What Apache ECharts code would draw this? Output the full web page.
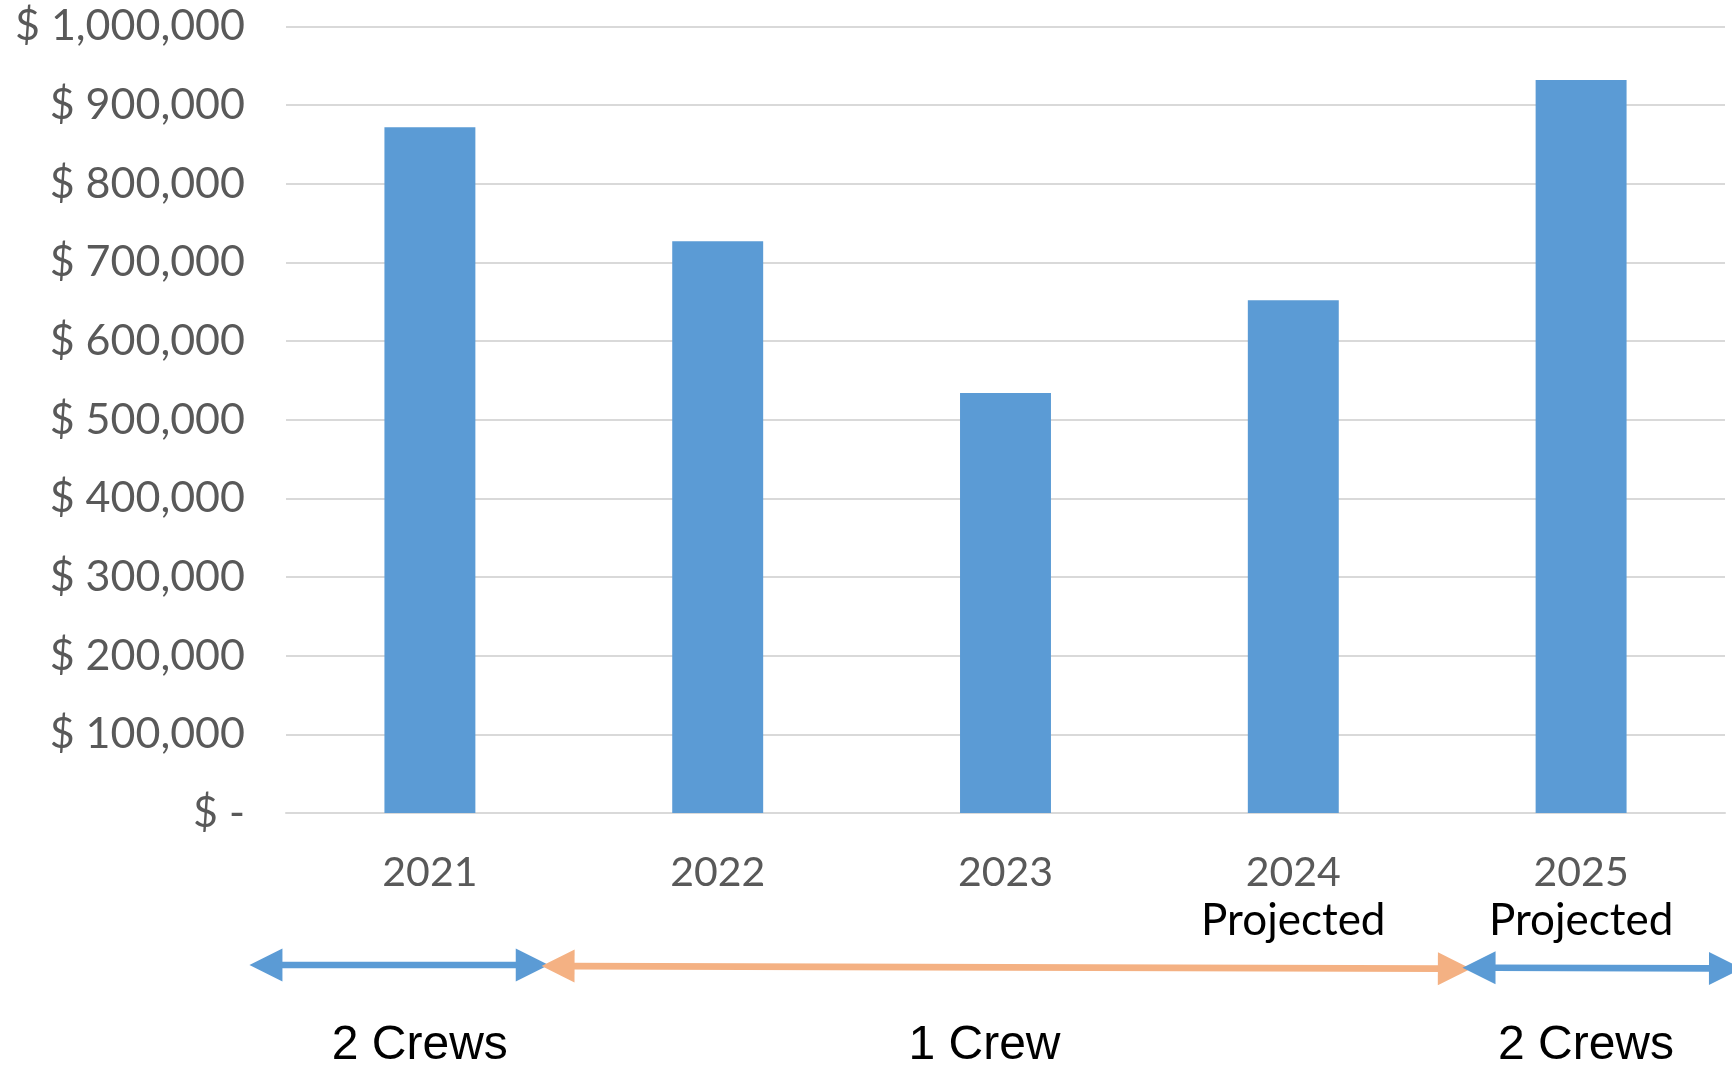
<!DOCTYPE html>
<html>
<head>
<meta charset="utf-8">
<style>
  html, body { margin: 0; padding: 0; background: #ffffff; }
  #chart { width: 1732px; height: 1065px; }
</style>
<script src="https://cdn.jsdelivr.net/npm/echarts@6/dist/echarts.min.js"></script>
</head>
<body>
<div id="chart"></div>
<script>
// ---- data ----
const categories = ['2021', '2022', '2023', '2024', '2025'];
const subLabels = ['', '', '', 'Projected', 'Projected'];
const revenue = [872000, 727000, 534000, 652000, 932000];
const yTickLabels = ['$ -', '$ 100,000', '$ 200,000', '$ 300,000', '$ 400,000', '$ 500,000',
                     '$ 600,000', '$ 700,000', '$ 800,000', '$ 900,000', '$ 1,000,000'];

// crew spans (in category units, 0 = centre of first category)
const spanFrom = [-0.627, 0.388, 3.588];
const spanTo = [0.413, 3.617, 4.559];
const spanFromRow = [0.0, 0.012, 0.033];
const spanToRow = [0.0, 0.046, 0.043];
const spanColorIdx = [0, 1, 0];
const spanLabels = ['2 Crews', '1 Crew', '2 Crews'];
const spanLabelPos = [-0.035, 1.927, 4.017];

const BLUE = '#5B9BD5';
const ORANGE = '#F4B183';
const spanColors = [BLUE, ORANGE];

const arrowData = spanFrom.map((f, i) => [f, spanFromRow[i], spanTo[i], spanToRow[i], spanColorIdx[i]]);
const labelData = spanLabelPos.map((x, i) => [x, 1, i]);

const chart = echarts.init(document.getElementById('chart'));

function renderArrow(params, api) {
  const p1 = api.coord([api.value(0), api.value(1)]);
  const p2 = api.coord([api.value(2), api.value(3)]);
  const color = spanColors[api.value(4)];
  const dx = p2[0] - p1[0], dy = p2[1] - p1[1];
  const len = Math.sqrt(dx * dx + dy * dy);
  const ux = dx / len, uy = dy / len;
  const nx = -uy, ny = ux;
  const head = 33, half = 16.5;
  const b1 = [p1[0] + ux * head, p1[1] + uy * head];
  const b2 = [p2[0] - ux * head, p2[1] - uy * head];
  return {
    type: 'group',
    children: [
      {
        type: 'line',
        shape: { x1: b1[0] - ux * 2, y1: b1[1] - uy * 2, x2: b2[0] + ux * 2, y2: b2[1] + uy * 2 },
        style: { stroke: color, lineWidth: 6.7 }
      },
      {
        type: 'polygon',
        shape: { points: [p1, [b1[0] + nx * half, b1[1] + ny * half], [b1[0] - nx * half, b1[1] - ny * half]] },
        style: { fill: color }
      },
      {
        type: 'polygon',
        shape: { points: [p2, [b2[0] + nx * half, b2[1] + ny * half], [b2[0] - nx * half, b2[1] - ny * half]] },
        style: { fill: color }
      }
    ]
  };
}

function renderLabel(params, api) {
  const p = api.coord([api.value(0), api.value(1)]);
  return {
    type: 'text',
    x: p[0],
    y: p[1],
    style: {
      text: spanLabels[api.value(2)],
      fill: '#000000',
      font: '48px "Liberation Sans", Arial, sans-serif',
      align: 'center',
      verticalAlign: 'middle'
    }
  };
}

const option = {
  animation: false,
  backgroundColor: '#ffffff',
  grid: [
    { left: 286, right: 7, top: 26.5, height: 786.5, containLabel: false },
    { left: 286, right: 7, top: 965, height: 81, containLabel: false }
  ],
  xAxis: [
    {
      type: 'category',
      gridIndex: 0,
      data: categories,
      axisLine: { show: true, lineStyle: { color: '#D9D9D9', width: 2 } },
      axisTick: { show: false },
      splitLine: { show: false },
      axisLabel: {
        margin: 36,
        interval: 0,
        formatter: function (v, i) {
          return subLabels[i] ? '{y|' + v + '}\n{p|' + subLabels[i] + '}' : '{y|' + v + '}';
        },
        rich: {
          y: { fontFamily: 'Lato', fontSize: 41, color: '#595959', lineHeight: 47 },
          p: { fontFamily: 'Lato', fontSize: 44, color: '#000000', lineHeight: 49 }
        }
      }
    },
    {
      type: 'value',
      gridIndex: 1,
      min: -0.5,
      max: 4.5,
      show: false
    }
  ],
  yAxis: [
    {
      type: 'value',
      gridIndex: 0,
      min: 0,
      max: 1000000,
      interval: 100000,
      axisLine: { show: false },
      axisTick: { show: false },
      splitLine: { show: true, lineStyle: { color: '#D9D9D9', width: 2 } },
      axisLabel: {
        margin: 41,
        fontFamily: 'Lato',
        fontSize: 43,
        color: '#595959',
        formatter: function (v) { return yTickLabels[Math.round(v / 100000)]; }
      }
    },
    {
      type: 'value',
      gridIndex: 1,
      min: 0,
      max: 1,
      inverse: true,
      show: false
    }
  ],
  series: [
    {
      type: 'bar',
      xAxisIndex: 0,
      yAxisIndex: 0,
      data: revenue,
      barWidth: '31.6%',
      itemStyle: { color: BLUE },
      silent: true
    },
    {
      type: 'custom',
      xAxisIndex: 1,
      yAxisIndex: 1,
      clip: false,
      silent: true,
      data: arrowData,
      renderItem: renderArrow
    },
    {
      type: 'custom',
      xAxisIndex: 1,
      yAxisIndex: 1,
      clip: false,
      silent: true,
      data: labelData,
      renderItem: renderLabel
    }
  ]
};

chart.setOption(option);
</script>
</body>
</html>
